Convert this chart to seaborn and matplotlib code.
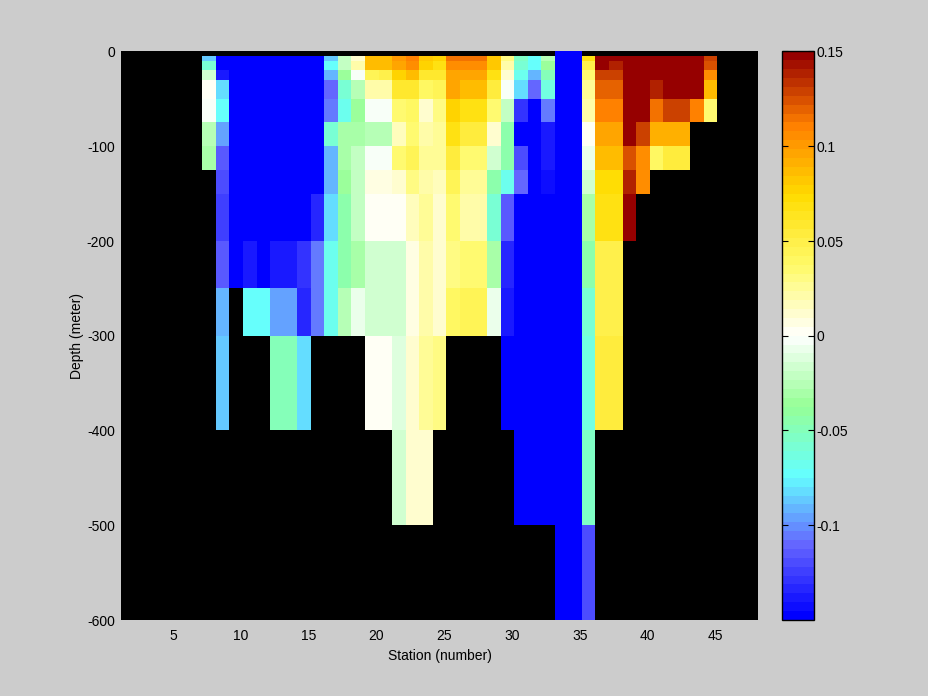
import numpy as np
import pandas as pd
import seaborn as sns
import matplotlib
matplotlib.use("Agg")
import matplotlib.pyplot as plt
from matplotlib.colors import LinearSegmentedColormap

N = np.nan
B = -0.148

# bottom edge of each depth layer (meter)
depth_edges = [0, 5, 10, 20, 30, 50, 75, 100, 125, 150, 200, 250, 300, 400, 500, 600]
station_ticks = [5, 10, 15, 20, 25, 30, 35, 40, 45]
depth_ticks = [0, 100, 200, 300, 400, 500, 600]
cbar_ticks = [-0.1, -0.05, 0, 0.05, 0.1, 0.15]
cbar_labels = ["-0.1", "-0.05", "0", "0.05", "0.1", "0.15"]

# values for the 38 stations with data, one list per depth layer
d0 = [N]*26 + [B, B] + [N]*10
d5 = [-.088] + [B]*8 + [-.086, -.022, .014, .087,
      .087, .1, .112, .083, .076, .113, .115, .115, .08, .03, -.052, -.072, -.026,
      B, B, .066, .15, .15, .15, .15, .15, .15, .15, .15, .13]
d10 = [-.06] + [B]*8 + [-.075, -.022, .02, .087,
       .087, .098, .107, .078, .07, .107, .107, .107, .08, .02, -.058, -.075, -.037,
       B, B, .05, .15, .14, .15, .15, .15, .15, .15, .15, .125]
d20 = [-.016, -.137] + [B]*7 + [-.092, -.033, -.002, .046,
       .05, .078, .087, .06, .06, .095, .095, .095, .068, .012, -.07, -.092, -.05,
       B, B, .036, .13, .13, .15, .15, .15, .15, .15, .15, .107]
d30 = [.003, -.082] + [B]*7 + [-.112, -.06, -.026, .02,
       .02, .058, .06, .04, .046, .095, .087, .087, .052, -.002, -.082, -.11, -.062,
       B, B, .028, .12, .12, .15, .15, .14, .15, .15, .15, .087]
d50 = [-.004, -.072] + [B]*7 + [-.106, -.068, -.037, -.004,
       -.004, .034, .04, .014, .03, .078, .068, .068, .036, -.022, -.13, B, -.106,
       B, B, .02, .11, .11, .15, .15, .115, .13, .13, .11, .036]
d75 = [-.026, -.098] + [B]*7 + [-.06, -.032, -.032, -.026,
       -.026, .017, .034, .02, .028, .07, .052, .052, .014, -.045, B, B, -.137,
       B, B, .004, .098, .098, .15, .13, .093, .093, .093, N, N]
d100 = [-.032, -.114] + [B]*7 + [-.09, -.032, -.022, -.004,
        -.004, .034, .046, .026, .026, .056, .034, .034, -.018, -.045, -.12, B, -.14,
        B, B, -.006, .086, .086, .125, .107, .04, .055, .055, N, N]
d125 = [N, -.12] + [B]*7 + [-.092, -.037, -.02, .005,
        .005, .014, .03, .02, .016, .043, .024, .024, -.043, -.067, -.112, B, -.143,
        B, B, -.018, .073, .073, .14, .107, N, N, N, N, N]
d150 = [N, -.125] + [B]*6 + [-.135, -.082, -.045, -.02, .002,
        .002, .002, .017, .024, .014, .034, .02, .02, -.06, -.115, B, B, B,
        B, B, -.03, .066, .066, .15, N, N, N, N, N, N]
d200 = [N, -.115, B, -.14, B, -.137, -.137, -.128, -.106, -.07, -.045, -.03, -.016,
        -.016, -.016, .005, .02, .014, .03, .036, .036, -.032, -.135, B, B, B,
        B, B, -.043, .05, .05, N, N, N, N, N, N, N]
d250 = [N, -.09, N, -.072, -.072, -.098, -.098, -.135, -.106, -.068, -.026, -.006, -.016,
        -.016, -.016, .008, .02, .012, .042, .045, .045, -.008, -.137, B, B, B,
        B, B, -.06, .05, .05, N, N, N, N, N, N, N]
d300 = [N, -.085, N, N, N, -.05, -.05, -.08, N, N, N, N, .002,
        .002, -.012, .014, .024, .03, N, N, N, N, B, B, B, B,
        B, B, -.062, .054, .054, N, N, N, N, N, N, N]
d400 = [N]*13 + [N, -.016, .012, .012, N, N, N, N, N, N, B, B, B,
        B, B, -.052, N, N, N, N, N, N, N, N, N]
d500 = [N]*26 + [B, B, -.12] + [N]*9

layers = [d0, d5, d10, d20, d30, d50, d75, d100, d125, d150, d200, d250, d300, d400, d500]

n_before = 6   # empty stations left of the data
n_after = 3    # and right of it

sns.set_theme(style="white")
plt.rcParams["font.family"] = ["Liberation Sans", "DejaVu Sans"]
plt.rcParams["font.size"] = 10

# heatmap cells are all the same height, so repeat layers on a 5 m grid
rows = []
depth_index = []
for k, layer in enumerate(layers):
    n_rep = (depth_edges[k+1] - depth_edges[k]) // 5
    for r in range(n_rep):
        rows.append([N]*n_before + layer + [N]*n_after)
        depth_index.append(depth_edges[k] + r*5)
df = pd.DataFrame(rows, index=depth_index)

# jet-like map with a white middle
stops = [(0.0, (0, 0, 255)), (0.125, (100, 100, 255)), (0.25, (100, 255, 255)),
         (0.375, (150, 255, 150)), (0.5, (255, 255, 255)), (0.625, (255, 250, 105)),
         (0.6667, (255, 240, 75)), (0.75, (255, 220, 0)), (0.875, (255, 128, 0)),
         (1.0, (150, 0, 0))]
cmap = LinearSegmentedColormap.from_list(
    "jetwhite", [(p, tuple(c/255 for c in rgb)) for p, rgb in stops], N=64)

fig = plt.figure(figsize=(9.281, 6.961), dpi=100, facecolor="#cccccc")
ax = fig.add_axes([121/928, 1-620/696, 637/928, 568.5/696])
cax = fig.add_axes([782/928, 1-620/696, 32/928, 568.5/696])

sns.heatmap(df, ax=ax, cbar_ax=cax, cmap=cmap, vmin=-0.15, vmax=0.15,
            xticklabels=False, yticklabels=False)
ax.set_facecolor("black")

ax.set_xticks([s - 1.16 for s in station_ticks])
ax.set_xticklabels([str(s) for s in station_ticks], rotation=0, color="black")
ax.set_yticks([d/5 for d in depth_ticks])
ax.set_yticklabels(["0" if d == 0 else f"-{d}" for d in depth_ticks], rotation=0, color="black")
ax.tick_params(axis="x", length=0, pad=6.5, labelsize=10)
ax.tick_params(axis="y", length=0, pad=4.5, labelsize=10)
ax.set_xlabel("Station (number)", fontsize=10, color="black", labelpad=4.5)
ax.set_ylabel("Depth (meter)", fontsize=10, color="black", labelpad=2)

cbar = ax.collections[0].colorbar
cbar.set_ticks(cbar_ticks)
cbar.set_ticklabels(cbar_labels)
cbar.outline.set_visible(True)
cbar.outline.set_edgecolor("black")
cbar.outline.set_linewidth(1)
cax.set_axisbelow(False)
cax.tick_params(axis="y", which="both", length=4, width=0.8, direction="in", left=True, right=True,
                colors="black", pad=2, labelsize=10)

plt.savefig("out.png", dpi=100, facecolor=fig.get_facecolor())
